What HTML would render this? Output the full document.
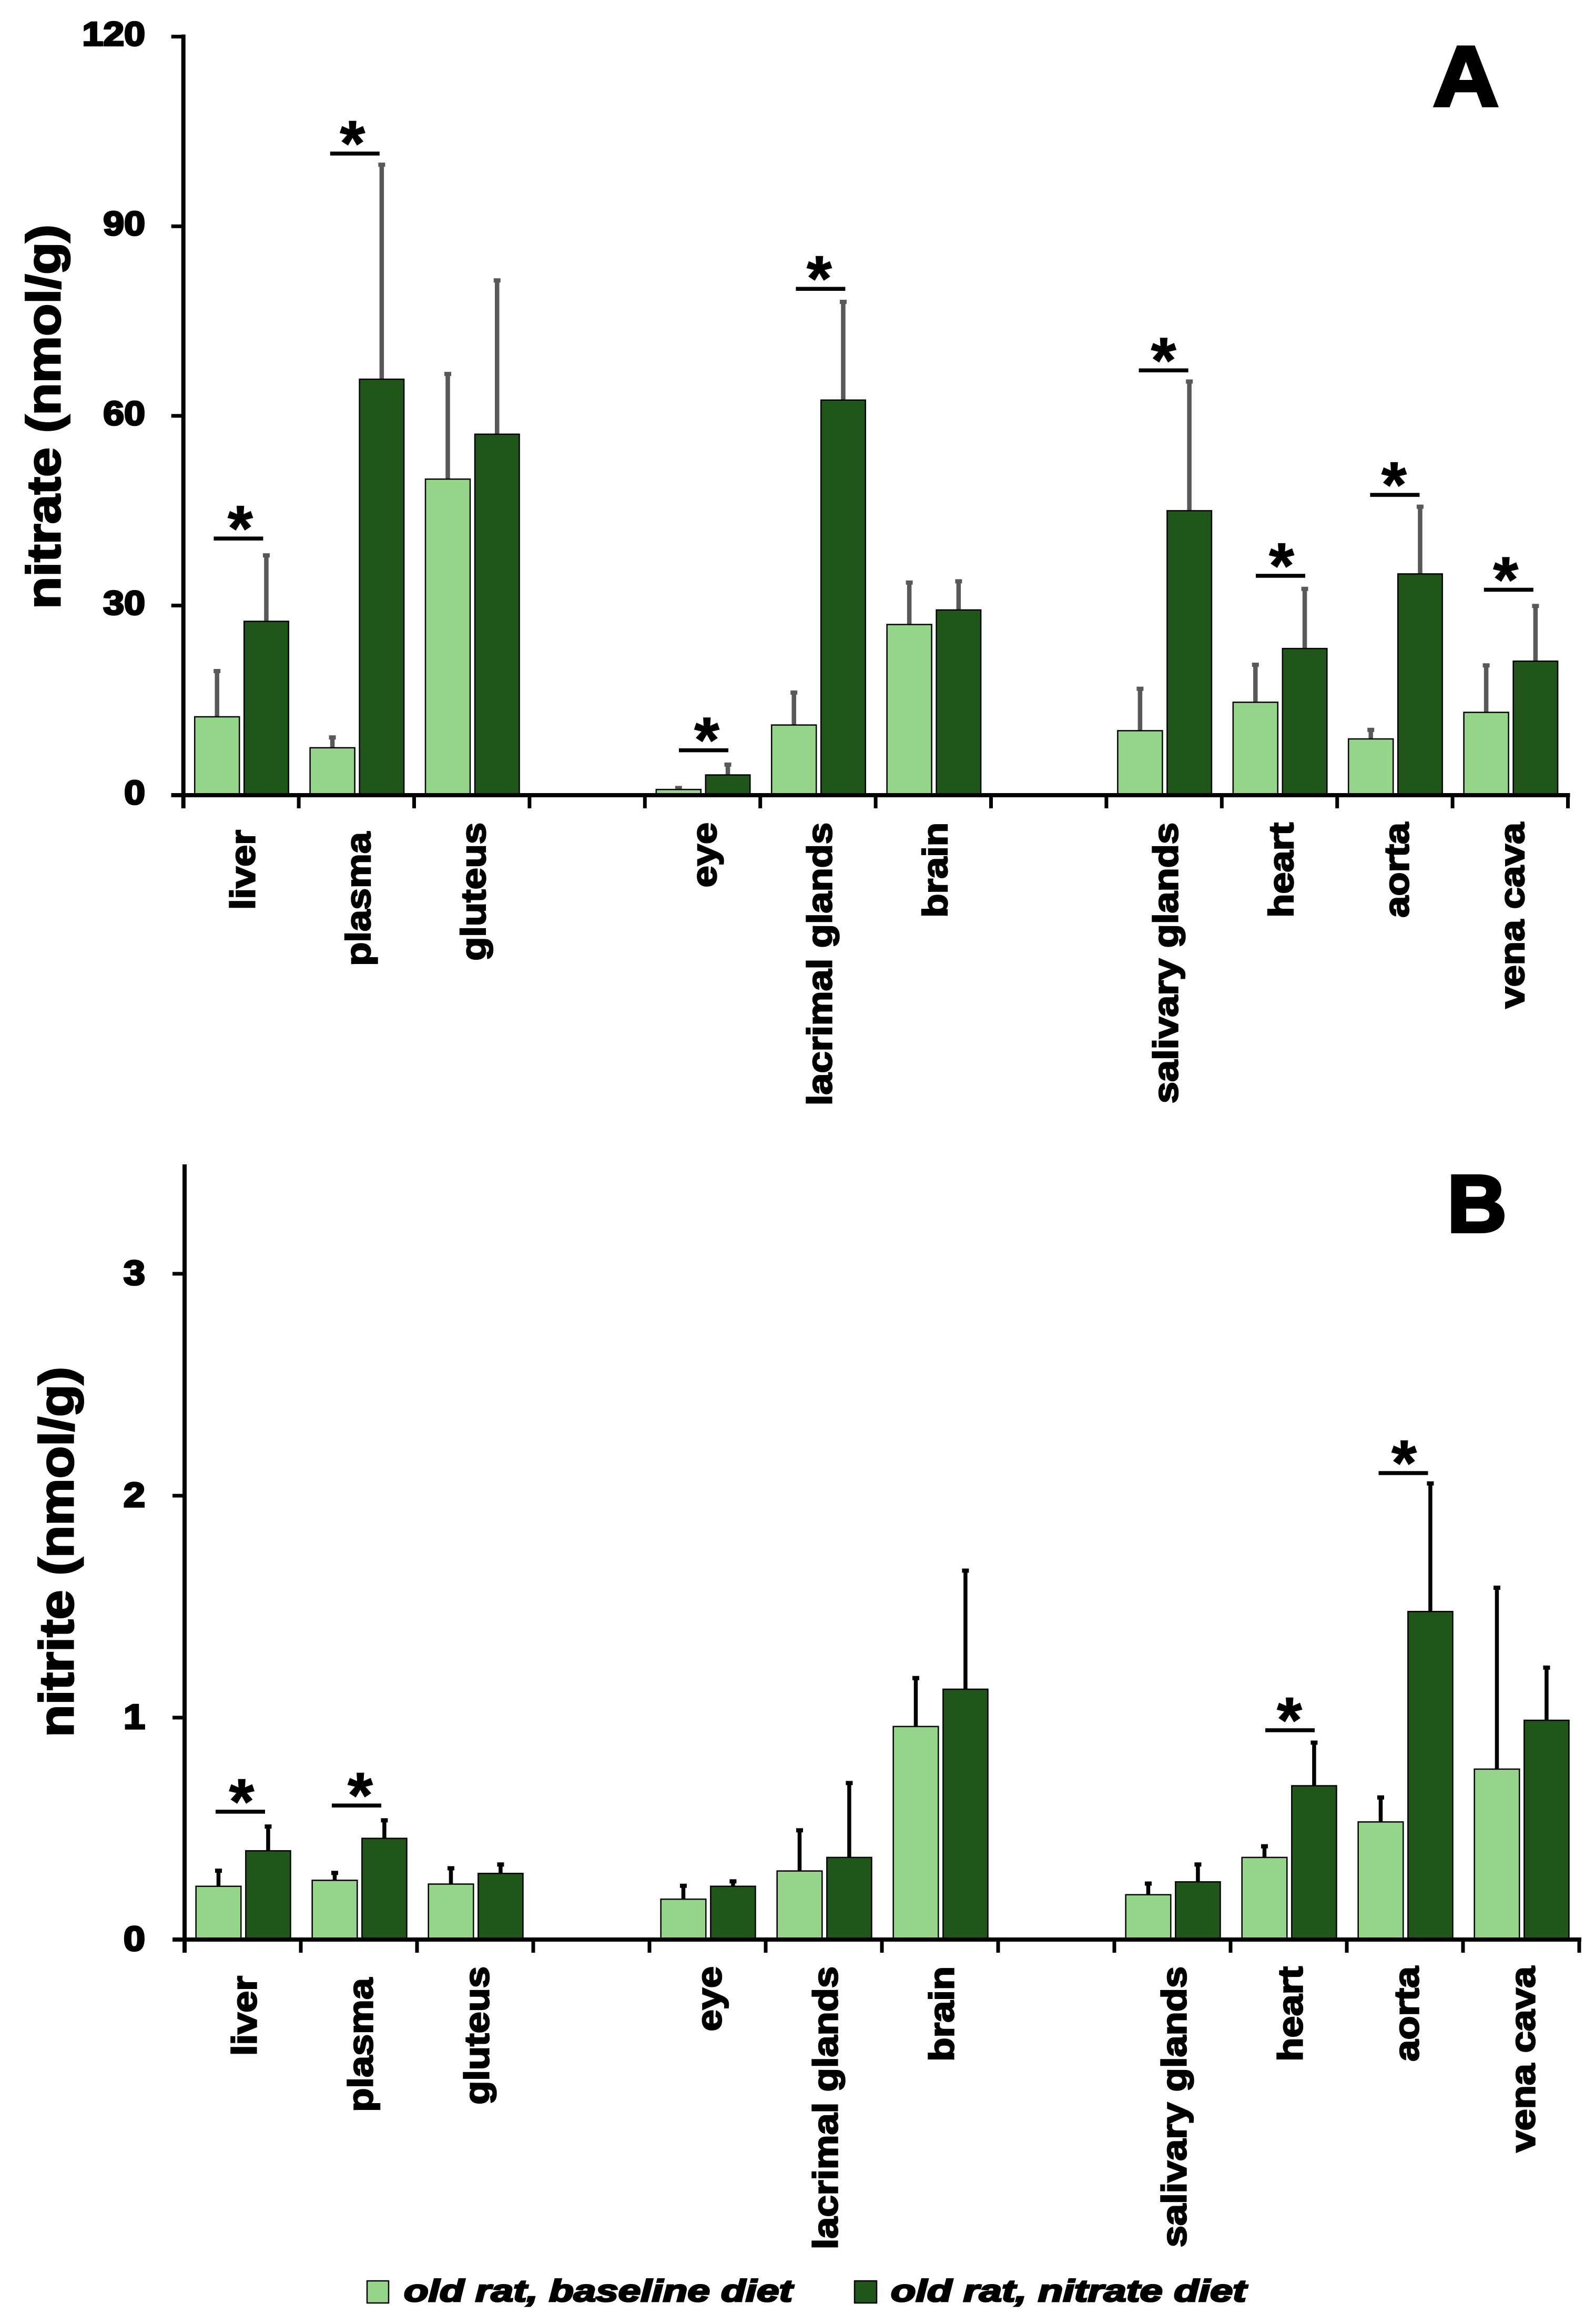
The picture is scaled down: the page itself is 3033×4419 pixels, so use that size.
<!DOCTYPE html>
<html lang="en">
<head>
<meta charset="utf-8">
<title>Nitrate and nitrite levels in old rat tissues</title>
<style>
html,body{margin:0;padding:0;background:#fff;}
svg{display:block;}
text{font-family:"Liberation Sans",Arial,sans-serif;font-weight:700;fill:#000;}
</style>
</head>
<body>
<svg id="figure" xmlns="http://www.w3.org/2000/svg" width="3033" height="4419" viewBox="0 0 3033 4419">
  <rect x="0" y="0" width="3033" height="4419" fill="#fff"/>
  <g id="panel-a"></g>
  <g id="panel-b"></g>
  <text transform="translate(114,1158) rotate(-90)" font-size="90" textLength="731" lengthAdjust="spacingAndGlyphs" stroke="#000" stroke-width="3">nitrate (nmol/g)</text>
  <text transform="translate(139,3303) rotate(-90)" font-size="92" textLength="704" lengthAdjust="spacingAndGlyphs" stroke="#000" stroke-width="3">nitrite (nmol/g)</text>
  <text x="2725" y="201" font-size="162" textLength="125" lengthAdjust="spacingAndGlyphs" stroke="#000" stroke-width="6">A</text>
  <text x="2752" y="2342" font-size="154" textLength="113" lengthAdjust="spacingAndGlyphs" stroke="#000" stroke-width="6">B</text>
  <g>
    <rect x="698" y="4337" width="41" height="42" fill="#95d58a" stroke="#000" stroke-width="2.5"/>
    <text x="768" y="4376" font-size="58" font-style="italic" textLength="739" lengthAdjust="spacingAndGlyphs" stroke="#000" stroke-width="3">old rat, baseline diet</text>
    <rect x="1625" y="4337" width="42" height="42" fill="#21561a" stroke="#000" stroke-width="2.5"/>
    <text x="1694" y="4376" font-size="58" font-style="italic" textLength="676" lengthAdjust="spacingAndGlyphs" stroke="#000" stroke-width="3">old rat, nitrate diet</text>
  </g>
</svg>
<script>
// Slots follow the x axis; an empty string is a spacer slot with no bars.
const categories = ['liver','plasma','gluteus','','eye','lacrimal glands','brain','','salivary glands','heart','aorta','vena cava'];

// Panel A: nitrate (nmol/g)
const nitrateTicks = [0,30,60,90,120];
const nitrateBaseline = [12.4,7.5,50,null,0.9,11.1,27,null,10.2,14.7,8.9,13.1];
const nitrateBaselineUpper = [19.8,9.3,66.8,null,1.3,16.4,33.8,null,17,20.8,10.5,20.7];
const nitrateDiet = [27.5,65.8,57.1,null,3.2,62.5,29.3,null,45,23.2,35,21.2];
const nitrateDietUpper = [38.1,99.9,81.6,null,5,78.2,34,null,65.6,32.8,45.8,30.1];
const nitrateSignificance = [40.6,101.5,null,null,7.1,80.1,null,null,67.2,34.7,47.5,32.5];

// Panel B: nitrite (nmol/g)
const nitriteTicks = [0,1,2,3];
const nitriteBaseline = [0.24,0.267,0.25,null,0.182,0.309,0.96,null,0.202,0.37,0.53,0.768];
const nitriteBaselineUpper = [0.315,0.305,0.326,null,0.247,0.497,1.183,null,0.257,0.425,0.645,1.59];
const nitriteDiet = [0.40,0.456,0.298,null,0.24,0.37,1.128,null,0.26,0.693,1.478,0.988];
const nitriteDietUpper = [0.514,0.542,0.343,null,0.267,0.71,1.667,null,0.343,0.892,2.06,1.23];
const nitriteSignificance = [0.576,0.604,null,null,null,null,null,null,null,0.943,2.102,null];

const SVGNS = 'http://www.w3.org/2000/svg';
const LIGHT = '#95d58a';
const DARK = '#21561a';

function make(parent, tag, attrs, content) {
  const el = document.createElementNS(SVGNS, tag);
  for (const k in attrs) el.setAttribute(k, attrs[k]);
  if (content !== undefined) el.textContent = content;
  parent.appendChild(el);
  return el;
}
function slug(s) { return s.replace(/\s+/g, '-'); }

function drawChart(cfg) {
  const root = document.getElementById(cfg.id);
  const x = i => cfg.x0 + cfg.slot * i;
  const y = v => cfg.y0 - cfg.unit * v;
  const slots = cfg.slot / 219.4;

  function drawBar(i, series, values, uppers, left, width, fill) {
    if (values[i] === null) return;
    const top = y(values[i]);
    const cx = x(i) + (left + width / 2) * slots;
    const stem = make(root, 'line', {x1: cx, x2: cx, y1: y(uppers[i]), y2: top, stroke: cfg.errColor, 'stroke-width': cfg.errWidth});
    
    
    const cap = make(root, 'rect', {x: cx - 6.5, y: y(uppers[i]) - 2, width: 13, height: 8, fill: cfg.errColor});
    
    
    const bar = make(root, 'rect', {x: x(i) + left * slots, y: top, width: width * slots, height: cfg.y0 - top, fill: fill, stroke: '#000', 'stroke-width': 2.5});
    
    
  }

  categories.forEach((c, i) => {
    drawBar(i, 'baseline', cfg.baseline, cfg.baselineUpper, 21.5, 85, LIGHT);
    drawBar(i, 'nitrate-diet', cfg.diet, cfg.dietUpper, 115.5, 84.5, DARK);

    if (cfg.sig[i] !== null) {
      const cx = x(i) + cfg.slot / 2 - 1 + (cfg.sigNudge[c] || 0);
      const ly = y(cfg.sig[i]);
      const line = make(root, 'line', {x1: cx - 47, x2: cx + 47, y1: ly, y2: ly, stroke: '#000', 'stroke-width': 7.5});
      
      
      const star = make(root, 'text', {x: cx + (cfg.starNudge[c] || 0), y: ly + 22, 'font-size': 122, 'text-anchor': 'middle', stroke: '#000', 'stroke-width': 1.5}, '*');
      
      
    }

    if (c) {
      const drop = cfg.labelDrop[c] || 0;
      const lx = x(i) + cfg.slot / 2 + 26;
      const label = make(root, 'text', {
        transform: 'translate(' + lx + ',' + (cfg.labelTop + drop) + ') rotate(-90) scale(1.12,1)',
        'font-size': 66, 'text-anchor': 'end', stroke: '#000', 'stroke-width': 2.5
      }, c);
      
      
    }
  });

  const baseline = make(root, 'line', {x1: cfg.x0 - 23, x2: x(categories.length) + 4, y1: cfg.y0, y2: cfg.y0, stroke: '#000', 'stroke-width': 8});
  
  
  const yAxis = make(root, 'line', {x1: cfg.x0, x2: cfg.x0, y1: y(cfg.yMax) - cfg.axisTopPad, y2: cfg.y0 + 25, stroke: '#000', 'stroke-width': 8});
  
  

  for (let i = 1; i <= categories.length; i++) {
    const tick = make(root, 'line', {x1: x(i), x2: x(i), y1: cfg.y0, y2: cfg.y0 + 25, stroke: '#000', 'stroke-width': 7});
    
    
  }

  cfg.ticks.forEach(v => {
    const tick = make(root, 'line', {x1: cfg.x0 - 23, x2: cfg.x0, y1: y(v), y2: y(v), stroke: '#000', 'stroke-width': 7});
    
    
    const label = make(root, 'text', {
      transform: 'translate(276,' + (y(v) + cfg.tickDy) + ') scale(1.12,1)',
      'font-size': cfg.tickSize, 'text-anchor': 'end', stroke: '#000', 'stroke-width': 3.5
    }, String(v));
    
    
  });
}

drawChart({
  id: 'panel-a', x0: 348.7, slot: 219.4, y0: 1512, unit: 12.02, yMax: 120,
  ticks: nitrateTicks, baseline: nitrateBaseline, baselineUpper: nitrateBaselineUpper,
  diet: nitrateDiet, dietUpper: nitrateDietUpper, sig: nitrateSignificance,
  errColor: '#595959', errWidth: 8.5, labelTop: 1564, labelDrop: {liver: 14, plasma: 18},
  sigNudge: {liver: -4, plasma: -2, eye: 3, 'lacrimal glands': 6, heart: 3, aorta: 1, 'vena cava': -2},
  starNudge: {liver: 3.5, plasma: -4.5, eye: 6, 'lacrimal glands': -2.5, heart: 2, aorta: -1.5, 'vena cava': -5.5},
  tickDy: 17, tickSize: 64, axisTopPad: 4
});
drawChart({
  id: 'panel-b', x0: 351, slot: 221, y0: 3688, unit: 422, yMax: 3.5,
  ticks: nitriteTicks, baseline: nitriteBaseline, baselineUpper: nitriteBaselineUpper,
  diet: nitriteDiet, dietUpper: nitriteDietUpper, sig: nitriteSignificance,
  errColor: '#000', errWidth: 7.5, labelTop: 3739, labelDrop: {liver: 18, plasma: 22},
  sigNudge: {liver: -3.5, plasma: -3.5, heart: 3.5, aorta: -2},
  starNudge: {liver: 2.5, plasma: 7, heart: -1, aorta: 1.5},
  tickDy: 21, tickSize: 66, axisTopPad: -3
});
</script>
</body>
</html>
